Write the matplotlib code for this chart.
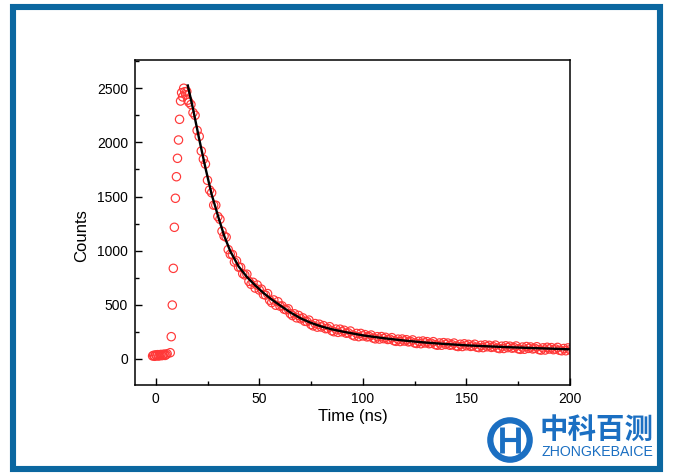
import matplotlib
matplotlib.use('Agg')
import matplotlib.pyplot as plt
from matplotlib.patches import Rectangle, Circle
from matplotlib.ticker import MultipleLocator

plt.rcParams['font.family'] = ['Liberation Sans', 'DejaVu Sans']

# ---------------- data ----------------
rise_t = [-1.5, -1.0, -0.5, 0.0, 0.5, 1.0, 1.5, 2.0, 2.5, 3.0, 3.5, 4.0, 4.5, 5.0, 5.5,
          7.0, 7.5, 8.0, 8.5, 9.0, 9.5, 10.0, 10.5, 11.0, 11.5, 12.0, 12.5, 13.0, 13.5,
          14.0, 14.5, 15.0, 15.5]
rise_counts = [28, 34, 25, 38, 30, 40, 27, 36, 42, 31, 37, 45, 33, 40, 48,
               58, 206, 498, 837, 1216, 1484, 1683, 1853, 2022, 2213, 2382, 2459, 2420, 2500,
               2468, 2440, 2470, 2390]

decay_t = list(range(16, 201))
decay_counts = [
    2370, 2350, 2275, 2250, 2110, 2055, 1920, 1845, 1800, 1650,
    1560, 1535, 1420, 1420, 1315, 1290, 1180, 1135, 1125, 1010,
    967, 965, 895, 906, 848, 846, 788, 776, 783, 717,
    690, 708, 655, 683, 637, 645, 596, 590, 604, 543,
    521, 545, 496, 529, 488, 490, 460, 454, 463, 418,
    401, 417, 380, 402, 371, 380, 348, 346, 359, 318,
    306, 327, 294, 321, 295, 308, 280, 282, 298, 261,
    252, 276, 246, 275, 251, 265, 238, 241, 258, 221,
    212, 236, 206, 236, 213, 225, 204, 208, 221, 193,
    186, 206, 184, 207, 188, 200, 180, 183, 197, 169,
    163, 183, 161, 184, 166, 178, 158, 162, 176, 148,
    143, 163, 141, 166, 148, 160, 141, 145, 160, 133,
    127, 148, 127, 151, 134, 147, 127, 132, 147, 120,
    115, 136, 115, 140, 122, 135, 116, 121, 136, 109,
    105, 126, 105, 130, 113, 126, 107, 113, 128, 101,
    96, 118, 97, 122, 105, 118, 100, 105, 120, 94,
    89, 110, 90, 115, 98, 111, 93, 98, 113, 87,
    82, 103, 83, 108, 92, 105, 86, 92, 107, 80,
    76, 97, 76, 102, 85]

fit_t = [15.5, 18, 21, 24, 27, 30, 33, 36, 40, 44, 48, 52, 56, 60, 65, 70, 75, 80, 85,
         90, 100, 110, 120, 130, 140, 150, 160, 170, 180, 190, 200]
fit_counts = [2525, 2310, 2030, 1765, 1520, 1325, 1140, 995, 855, 758, 680, 610, 549,
              495, 430, 375, 333, 300, 274, 254, 218, 192, 170, 152, 138, 126, 117, 109,
              102, 96, 89]

x_ticks = [0, 50, 100, 150, 200]
y_ticks = [0, 500, 1000, 1500, 2000, 2500]

# ---------------- figure ----------------
W, H = 677, 475
fig = plt.figure(figsize=(W / 100, H / 100), dpi=100)
fig.patch.set_facecolor('white')

ax = fig.add_axes([135 / W, 1 - 385.3 / H, 435 / W, 325 / H])

data_t = rise_t + decay_t
data_c = rise_counts + decay_counts
ax.scatter(data_t, data_c, s=36, facecolors='none', edgecolors='#ff3838',
           linewidths=0.85, zorder=2)
ax.plot(fit_t, fit_counts, color='black', lw=1.7, zorder=3)

ax.set_xlim(-10, 200)
ax.set_ylim(-243, 2758)
ax.set_xticks(x_ticks)
ax.set_yticks(y_ticks)
ax.xaxis.set_minor_locator(MultipleLocator(25))
ax.yaxis.set_minor_locator(MultipleLocator(250))
ax.tick_params(which='both', direction='in', top=False, right=False,
               labelsize=10, pad=5, width=1.0)
ax.tick_params(which='major', length=4.8)
ax.tick_params(which='minor', length=2.9)
for sp in ax.spines.values():
    sp.set_linewidth(1.1)

ax.set_xlabel('Time (ns)', fontsize=12)
ax.set_ylabel('Counts', fontsize=12)
ax.xaxis.set_label_coords(0.5, -0.072)
ax.yaxis.set_label_coords(-0.105, 0.462)

# ---------------- blue frame ----------------
frame_col = '#0b67a0'
fig.add_artist(Rectangle((13 / W, 1 - 468.5 / H), (660 - 13) / W, (468.5 - 7) / H,
                         transform=fig.transFigure, fill=False, edgecolor=frame_col,
                         linewidth=4.4, zorder=10))

# ---------------- logo ----------------
logo_col = '#1b6fc2'
lax = fig.add_axes([486 / W, 1 - 464 / H, 48 / W, 48 / H])
lax.set_xlim(-1, 1)
lax.set_ylim(-1, 1)
lax.set_aspect('equal')
lax.axis('off')
lax.add_patch(Circle((0, 0), 0.82, fill=False, edgecolor=logo_col, linewidth=4.5))
lax.plot([-0.32, -0.32], [-0.55, 0.55], color=logo_col, lw=3.5, solid_capstyle='butt')
lax.plot([0.32, 0.32], [-0.55, 0.55], color=logo_col, lw=3.5, solid_capstyle='butt')
lax.plot([-0.32, 0.32], [0.0, 0.0], color=logo_col, lw=3.0, solid_capstyle='butt')

fig.text(596 / W, 1 - 430 / H, '中科百测', fontsize=20.5, fontweight='bold', color=logo_col,
         ha='center', va='center', family=['Noto Sans CJK SC', 'DejaVu Sans'])
fig.text(597 / W, 1 - 451.5 / H, 'ZHONGKEBAICE', fontsize=10.2, color=logo_col,
         ha='center', va='center')

fig.savefig('out.png', dpi=100)
